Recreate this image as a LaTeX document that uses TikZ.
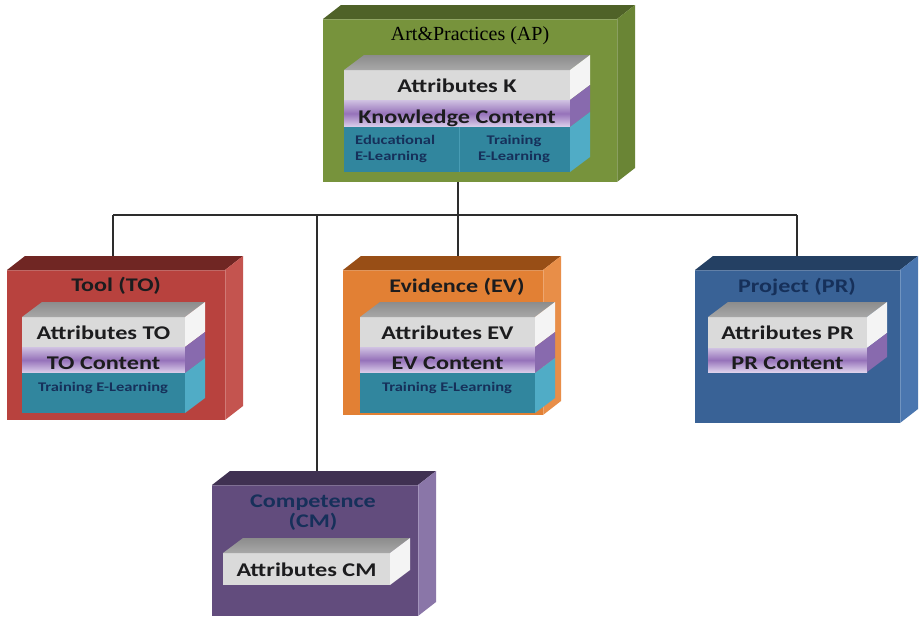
\documentclass[tikz,border=0pt]{standalone}
\usepackage{fontspec}
\setmainfont{Liberation Serif}
\newfontfamily\blocksans[FakeStretch=1.25]{Carlito}
\usetikzlibrary{calc,backgrounds}
\pgfdeclarelayer{canvas}
\pgfsetlayers{canvas,background,main}

% block colours: front / top / side
\definecolor{apF}{RGB}{119,147,60}
\definecolor{apT}{RGB}{79,98,40}
\definecolor{apS}{RGB}{106,133,53}
\definecolor{toF}{RGB}{184,66,62}
\definecolor{toT}{RGB}{112,38,35}
\definecolor{toS}{RGB}{196,84,79}
\definecolor{evF}{RGB}{226,128,52}
\definecolor{evT}{RGB}{152,78,22}
\definecolor{evS}{RGB}{232,142,72}
\definecolor{prF}{RGB}{57,98,150}
\definecolor{prT}{RGB}{36,64,99}
\definecolor{prS}{RGB}{74,118,175}
\definecolor{cmF}{RGB}{98,76,125}
\definecolor{cmT}{RGB}{64,49,82}
\definecolor{cmS}{RGB}{138,118,168}
% inner bars
\definecolor{attrF}{RGB}{218,218,218}
\definecolor{attrT}{RGB}{168,168,168}
\definecolor{attrTback}{RGB}{140,140,140}
\definecolor{attrS}{RGB}{244,244,244}
\definecolor{lavTop}{RGB}{208,194,226}
\definecolor{lavMid}{RGB}{150,114,186}
\definecolor{lavBot}{RGB}{222,210,236}
\definecolor{lavS}{RGB}{136,106,174}
\definecolor{tealF}{RGB}{49,134,158}
\definecolor{tealS}{RGB}{80,172,198}
\definecolor{tealDiv}{RGB}{72,156,180}
% inks
\definecolor{ink}{RGB}{28,28,30}
\definecolor{tealink}{RGB}{22,48,90}
\definecolor{linkgray}{RGB}{45,45,45}

\tikzset{
  blockfront/.style={anchor=north west,inner sep=0pt,outer sep=0pt,draw=none},
  band/.style={anchor=north west,inner sep=0pt,outer sep=0pt,text height=14.5pt,text depth=0pt,
    font=\blocksans\bfseries\fontsize{19.4}{19.4}\selectfont,text=ink},
  attrband/.style={band,fill=attrF},
  contband/.style={band,text height=19.5pt,top color=lavTop,bottom color=lavBot,middle color=lavMid},
  tealband/.style={band,fill=tealF},
  blocktitle/.style={inner sep=0pt,font=\blocksans\bfseries\fontsize{19.3}{20}\selectfont},
  smalltext/.style={inner sep=0pt,text=tealink,font=\blocksans\bfseries\fontsize{13.2}{16}\selectfont},
  link/.style={draw=linkgray,line width=1.2pt},
  bevel/.style={draw=white,draw opacity=.22,line width=1pt}
}

% top and side faces of an outer block, with a light bevel on the front corner edge
\newcommand\blockshell[3]{%
  \fill[#2] (#1.north west) -- ++(18,-14) -- ([shift={(18,-14)}]#1.north east) -- (#1.north east) -- cycle;
  \fill[#3] (#1.north east) -- ([shift={(18,-14)}]#1.north east) -- ([shift={(18,-14)}]#1.south east) -- (#1.south east) -- cycle;
  \draw[bevel] (#1.south east) -- (#1.north east) -- (#1.north west);}
% top face of an inner bar
\newcommand\slabtop[1]{%
  \shade[top color=attrTback,bottom color=attrT] (#1.north west) -- ++(20,-15) -- ([shift={(20,-15)}]#1.north east) -- (#1.north east) -- cycle;}
% side face of one band of an inner bar
\newcommand\slabside[2]{%
  \fill[#2] (#1.north east) -- ([shift={(20,-15)}]#1.north east) -- ([shift={(20,-15)}]#1.south east) -- (#1.south east) -- cycle;}

\begin{document}
\begin{tikzpicture}[x=1pt,y=-1pt]
\begin{pgfonlayer}{canvas}
\fill[white] (0,0) rectangle (920,616);
\end{pgfonlayer}
\useasboundingbox (0,0) rectangle (920,616);

% ---------- Art & Practices ----------
\node[blockfront,fill=apF,minimum width=294,minimum height=163] (ap) at (323,19) {};
\blockshell{ap}{apT}{apS}
\node[inner sep=0pt,font=\fontsize{20}{20}\selectfont] (apt) at (470,36) {Art\&Practices (AP)};
\node[attrband,minimum width=226,minimum height=30] (apa) at (344,70) {Attributes K};
\node[contband,minimum width=226,minimum height=27] (apc) at (344,100) {Knowledge Content};
\node[tealband,minimum width=226,minimum height=45] (ape) at (344,127) {};
\slabtop{apa}
\slabside{apa}{attrS}\slabside{apc}{lavS}\slabside{ape}{tealS}
\draw[tealDiv,line width=1pt] (ape.north) ++(2,0) coordinate (apd) -- (apd |- ape.south);
\node[smalltext,anchor=west,align=left] (ape1) at (355,149) {Educational\\E-Learning};
\node[smalltext,align=center] (ape2) at (514,149) {Training\\E-Learning};

% ---------- Tool ----------
\node[blockfront,fill=toF,minimum width=218,minimum height=150] (to) at (7,270) {};
\blockshell{to}{toT}{toS}
\node[blocktitle,text=ink] (tot) at (116,286) {Tool (TO)};
\node[attrband,minimum width=163,minimum height=30] (toa) at (22,317) {Attributes TO};
\node[contband,minimum width=163,minimum height=26] (toc) at (22,347) {TO Content};
\node[tealband,minimum width=163,minimum height=40] (toe) at (22,373) {};
\slabtop{toa}
\slabside{toa}{attrS}\slabside{toc}{lavS}\slabside{toe}{tealS}
\node[smalltext] (toe1) at (103,388) {Training E-Learning};

% ---------- Evidence ----------
\node[blockfront,fill=evF,minimum width=200,minimum height=145] (ev) at (343,270) {};
\blockshell{ev}{evT}{evS}
\node[blocktitle,text=ink] (evt) at (457,287) {Evidence (EV)};
\node[attrband,minimum width=175,minimum height=30] (eva) at (360,317) {Attributes EV};
\node[contband,minimum width=175,minimum height=26] (evc) at (360,347) {EV Content};
\node[tealband,minimum width=175,minimum height=40] (eve) at (360,373) {};
\slabtop{eva}
\slabside{eva}{attrS}\slabside{evc}{lavS}\slabside{eve}{tealS}
\node[smalltext] (eve1) at (447,388) {Training E-Learning};

% ---------- Project ----------
\node[blockfront,fill=prF,minimum width=205,minimum height=153] (pr) at (695,270) {};
\blockshell{pr}{prT}{prS}
\node[blocktitle,text=tealink] (prt) at (797,287) {Project (PR)};
\node[attrband,minimum width=159,minimum height=31] (pra) at (708,317) {Attributes PR};
\node[contband,minimum width=159,minimum height=24] (prc) at (708,348) {PR Content};
\slabtop{pra}
\slabside{pra}{attrS}\slabside{prc}{lavS}

% ---------- Competence ----------
\node[blockfront,fill=cmF,minimum width=206,minimum height=131] (cm) at (212,485) {};
\blockshell{cm}{cmT}{cmS}
\node[blocktitle,text=tealink,align=center] (cmt) at (313,513) {Competence\\(CM)};
\node[attrband,minimum width=167,minimum height=32] (cma) at (223,553) {Attributes CM};
\slabtop{cma}
\slabside{cma}{attrS}

% ---------- connectors ----------
\begin{pgfonlayer}{background}
\coordinate (jto) at (113,215);
\coordinate (jcm) at (317,215);
\coordinate (jap) at (458,215);
\coordinate (jpr) at (797,215);
\draw[link] (jap |- ap.south) -- (jap);
\draw[link] (jto) -- (jpr);
\draw[link] (jto) -- (jto |- to.north);
\draw[link] (jcm) -- (jcm |- cm.north);
\draw[link] (jap) -- (jap |- ev.north);
\draw[link] (jpr) -- (jpr |- pr.north);
\end{pgfonlayer}
\end{tikzpicture}
\end{document}
